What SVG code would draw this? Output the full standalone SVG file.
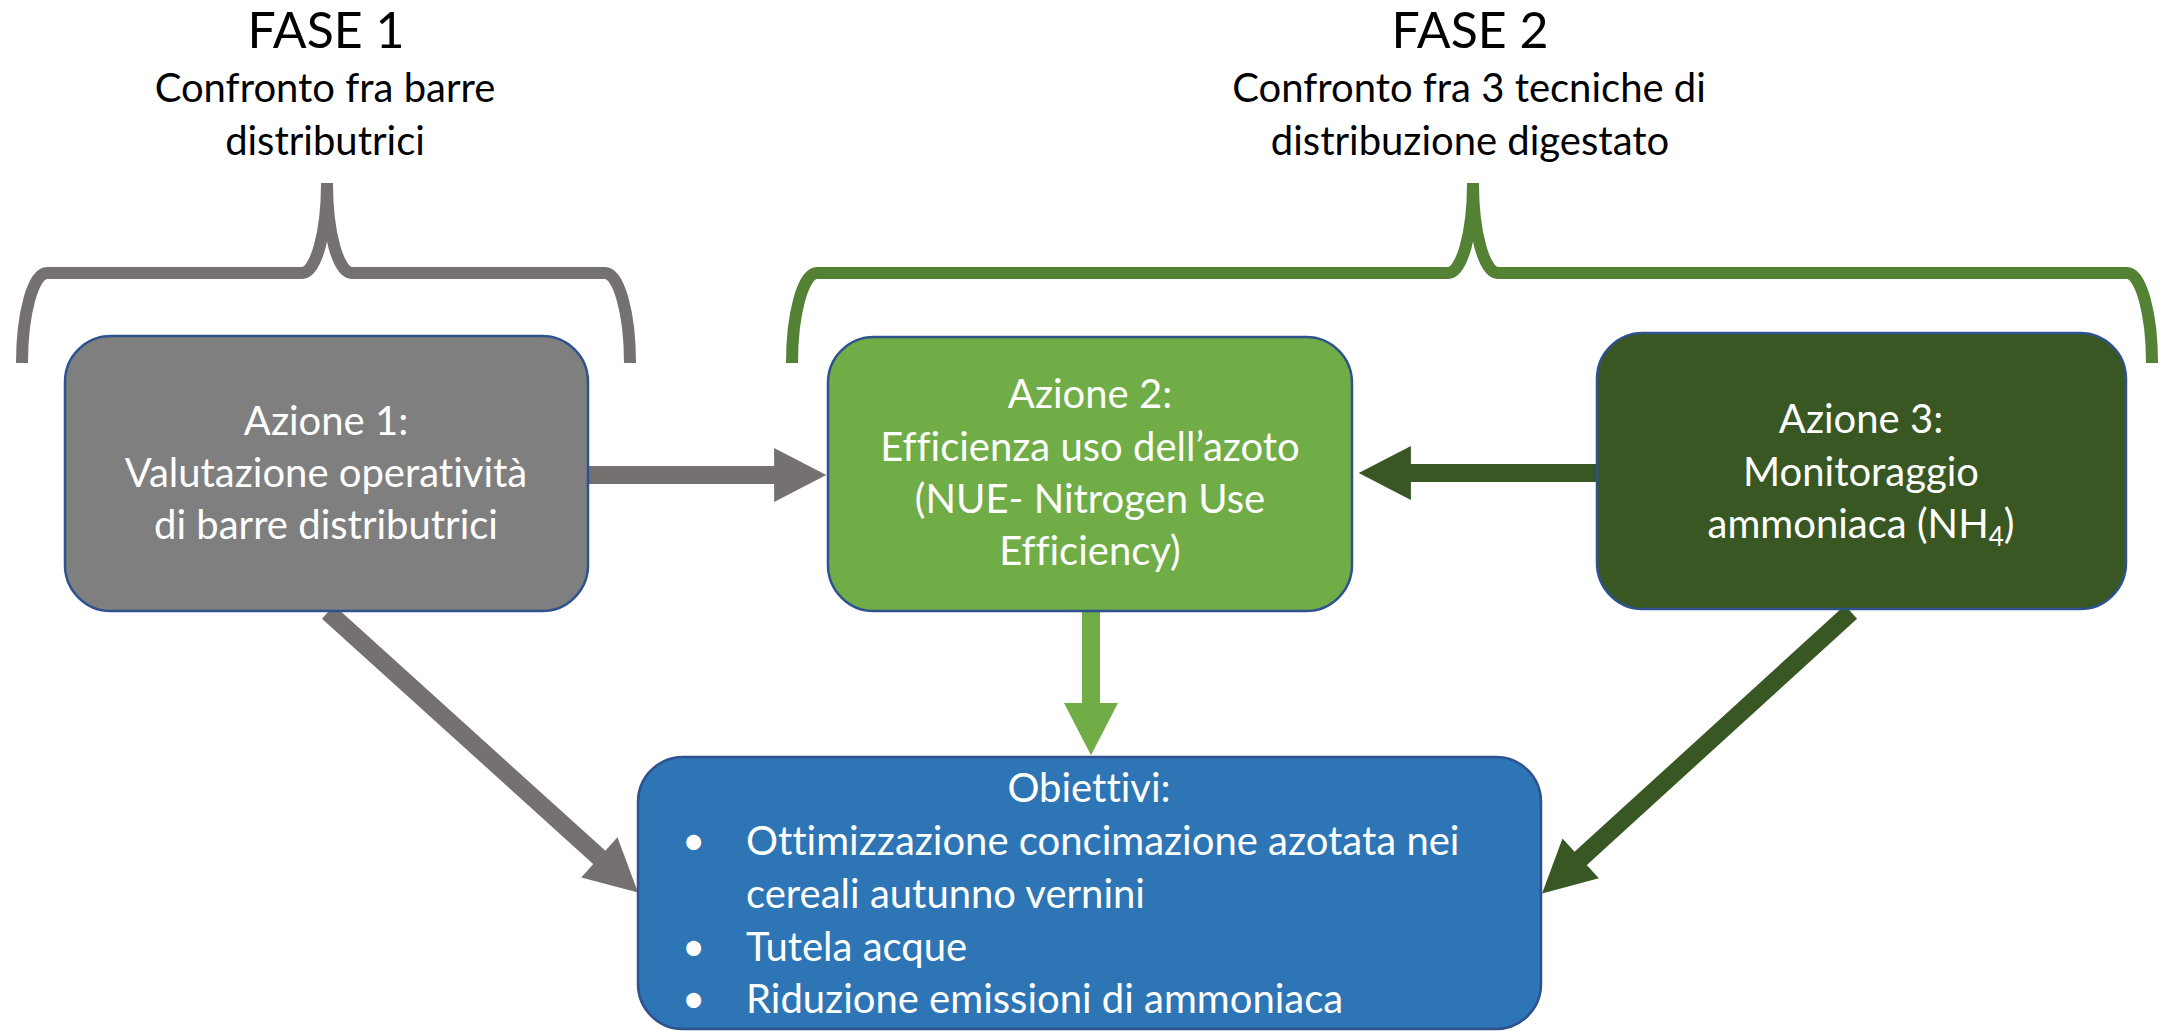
<svg xmlns="http://www.w3.org/2000/svg" width="2173" height="1031" viewBox="0 0 2173 1031">
<style>
  text { font-family: Lato, "Open Sans", "Liberation Sans", sans-serif; font-variant-ligatures: none; font-feature-settings: "liga" 0, "dlig" 0; }
  .title { font-size: 50px; fill: #000; text-anchor: middle; }
  .sub { font-size: 40px; fill: #000; text-anchor: middle; }
  .lbl { font-size: 40px; fill: #fff; text-anchor: middle; }
  .item { font-size: 40px; fill: #fff; }
  .box { stroke: #2F528F; stroke-width: 2.5; }
  .brace { fill: none; stroke-width: 12; }
  .conn { fill: none; stroke-width: 18; stroke-linecap: butt; }
</style>
<defs>
  <marker id="hGray" markerUnits="strokeWidth" markerWidth="3" markerHeight="3" refX="0.05" refY="1.5" orient="auto" overflow="visible">
    <path d="M0,0 L2.9,1.5 L0,3 Z" fill="#767171"/>
  </marker>
  <marker id="hLight" markerUnits="strokeWidth" markerWidth="3" markerHeight="3" refX="0.05" refY="1.5" orient="auto" overflow="visible">
    <path d="M0,0 L2.9,1.5 L0,3 Z" fill="#70AD47"/>
  </marker>
  <marker id="hDark" markerUnits="strokeWidth" markerWidth="3" markerHeight="3" refX="0.05" refY="1.5" orient="auto" overflow="visible">
    <path d="M0,0 L2.9,1.5 L0,3 Z" fill="#385723"/>
  </marker>
</defs>
<rect width="2173" height="1031" fill="#fff"/>

<g id="fase1">
  <text class="title" x="326" y="48">FASE 1</text>
  <text class="sub" x="325" y="102">Confronto fra barre</text>
  <text class="sub" x="325" y="155">distributrici</text>
  <path class="brace" stroke="#767171" d="M22,363 A25,90 0 0 1 47,273 L302,273 A25,90 0 0 0 327,183 A25,90 0 0 0 352,273 L605,273 A25,90 0 0 1 630,363"/>
</g>

<g id="fase2">
  <text class="title" x="1470" y="48">FASE 2</text>
  <text class="sub" x="1469" y="102">Confronto fra 3 tecniche di</text>
  <text class="sub" x="1470" y="155">distribuzione digestato</text>
  <path class="brace" stroke="#548235" d="M792,363 A25,90 0 0 1 817,273 L1448,273 A25,90 0 0 0 1473,183 A25,90 0 0 0 1498,273 L2127,273 A25,90 0 0 1 2152,363"/>
</g>

<g id="connectors">
  <line class="conn" stroke="#767171" x1="588" y1="475" x2="775" y2="475" marker-end="url(#hGray)"/>
  <line class="conn" stroke="#385723" x1="1597" y1="473" x2="1410" y2="473" marker-end="url(#hDark)"/>
  <line class="conn" stroke="#70AD47" x1="1091" y1="611" x2="1091" y2="704" marker-end="url(#hLight)"/>
  <line class="conn" stroke="#767171" x1="328" y1="612" x2="600" y2="858" marker-end="url(#hGray)"/>
  <line class="conn" stroke="#385723" x1="1851" y1="612" x2="1580" y2="859" marker-end="url(#hDark)"/>
</g>

<g id="azione1">
  <rect class="box" x="65" y="336" width="523" height="275" rx="46" ry="46" fill="#7F7F7F"/>
  <text class="lbl" x="326" y="435">Azione 1:</text>
  <text class="lbl" x="326" y="487">Valutazione operatività</text>
  <text class="lbl" x="326" y="539">di barre distributrici</text>
</g>

<g id="azione2">
  <rect class="box" x="828" y="337" width="524" height="274" rx="46" ry="46" fill="#70AD47"/>
  <text class="lbl" x="1090" y="408">Azione 2:</text>
  <text class="lbl" x="1090" y="461">Efficienza uso dell’azoto</text>
  <text class="lbl" x="1090" y="513">(NUE- Nitrogen Use</text>
  <text class="lbl" x="1090" y="565">Efficiency)</text>
</g>

<g id="azione3">
  <rect class="box" x="1597" y="333" width="529" height="276" rx="46" ry="46" fill="#385723"/>
  <text class="lbl" x="1861" y="433">Azione 3:</text>
  <text class="lbl" x="1861" y="486">Monitoraggio</text>
  <text class="lbl" x="1861" y="538">ammoniaca (NH<tspan font-size="26" dy="8">4</tspan><tspan dy="-8">)</tspan></text>
</g>

<g id="obiettivi">
  <rect class="box" x="638" y="757" width="903" height="272" rx="45" ry="45" fill="#2E75B6"/>
  <text class="lbl" x="1089" y="802">Obiettivi:</text>
  <text class="item" x="682" y="855">•</text>
  <text class="item" x="746" y="855">Ottimizzazione concimazione azotata nei</text>
  <text class="item" x="746" y="908">cereali autunno vernini</text>
  <text class="item" x="682" y="961">•</text>
  <text class="item" x="746" y="961">Tutela acque</text>
  <text class="item" x="682" y="1013">•</text>
  <text class="item" x="746" y="1013">Riduzione emissioni di ammoniaca</text>
</g>
</svg>
